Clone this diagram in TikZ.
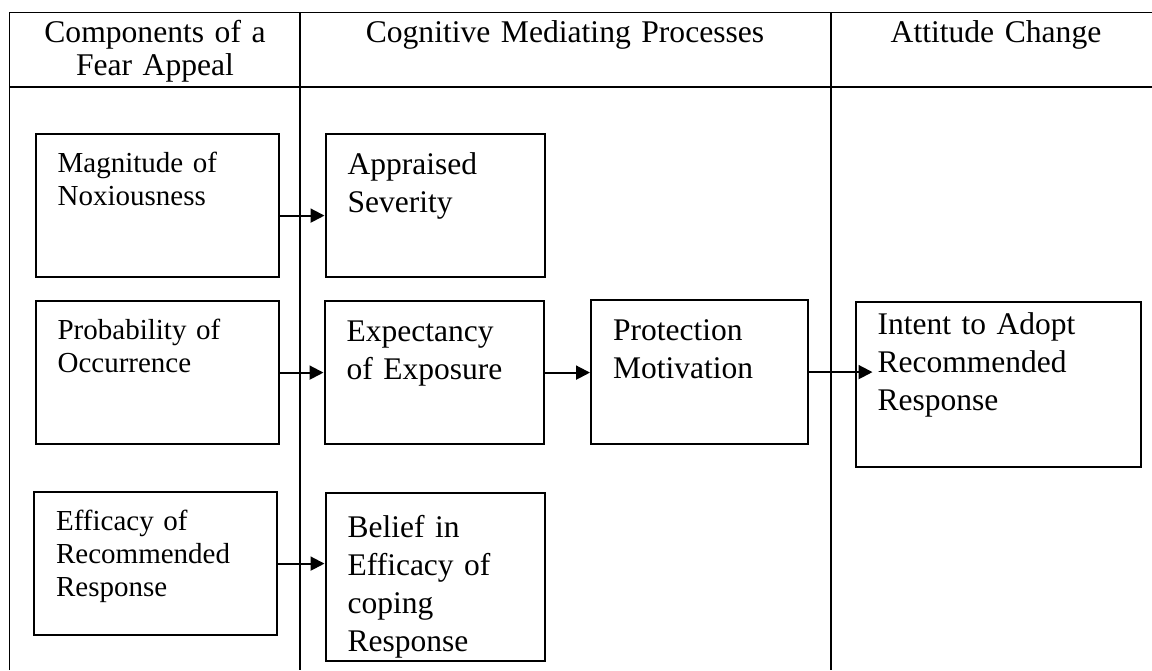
\documentclass[tikz,border=0pt]{standalone}
\usepackage{fontspec}
\setmainfont{Liberation Serif}
\usepackage{tikz}
\usetikzlibrary{arrows.meta, positioning}

\begin{document}
\begin{tikzpicture}[
    x=0.5pt, y=-0.5pt,
    grid/.style={draw=black, line width=0.75pt},
    hdr/.style={font=\fontsize{15.8}{16.5}\selectfont, align=center,
                anchor=north, inner sep=0pt, text height=11pt},
    box/.style={draw=black, line width=1.1pt, anchor=north west,
                align=left, inner xsep=11pt, inner ysep=0pt,
                text height=20pt, text width=87.5pt,
                font=\fontsize{15.75}{19}\selectfont},
    fbox/.style={box, text height=19pt, text width=99.5pt,
                 font=\fontsize{14.5}{16.5}\selectfont},
    arr/.style={-{Triangle[length=7pt, width=7pt]}, line width=1pt},
]
    \useasboundingbox (0,0) rectangle (1152,670);
    % column left edges
    \def\colF{34.5}
    \def\colC{324.5}
    \def\colP{590}
    \def\colI{854.5}
    % row top edges
    \def\rowA{133}
    \def\rowB{300}
    \def\rowC{491}

    % Table frame
    \draw[grid] (9.6,670) |- (1152,12.7);
    \draw[grid] (9.6,87) -- (1152,87);
    \draw[grid] (300,12.7) -- (300,670);
    \draw[grid] (831,12.7) -- (831,670);

    % Headers
    \node[hdr, text width=140pt] (h1) at (155,20)
        {Components of a\\Fear Appeal};
    \node[hdr, text width=250pt] (h2) at (565,20)
        {Cognitive Mediating Processes};
    \node[hdr, text width=150pt] (h3) at (996,20)
        {Attitude Change};

    % Components of a fear appeal
    \node[fbox, text depth=52.5pt] (mag) at (\colF,\rowA)
        {Magnitude of\\Noxiousness};
    \node[fbox, text depth=52.5pt] (prob) at (\colF,\rowB)
        {Probability of\\Occurrence};
    \node[fbox, text depth=52.5pt] (eff) at (\colF-1.5,\rowC)
        {Efficacy of\\Recommended\\Response};

    % Cognitive mediating processes
    \node[box, text depth=51.5pt] (app) at (\colC,\rowA)
        {Appraised\\Severity};
    \node[box, text depth=51.5pt] (expo) at (\colC-1,\rowB)
        {Expectancy\\of Exposure};
    \node[box, text height=22pt, text depth=62pt] (bel) at (\colC,\rowC+1)
        {Belief in\\Efficacy of\\coping\\Response};
    \node[box, text width=86.25pt, text depth=52pt] (prot) at (\colP,\rowB-1)
        {Protection\\Motivation};

    % Attitude change
    \node[box, text width=120.5pt, text height=16pt, text depth=66.5pt] (intent)
        at (\colI,\rowB+1)
        {Intent to Adopt\\Recommended\\Response};

    \draw[arr] ([yshift=-5pt]mag.east) -- ([yshift=-5pt]app.west);
    \draw[arr] (prob.east) -- (prob.east -| expo.west);
    \draw[arr] (expo.east) -- (expo.east -| prot.west);
    \draw[arr] (prot.east) -- ([xshift=9pt]prot.east -| intent.west);
    \draw[arr] (eff.east) -- (eff.east -| bel.west);
\end{tikzpicture}
\end{document}
